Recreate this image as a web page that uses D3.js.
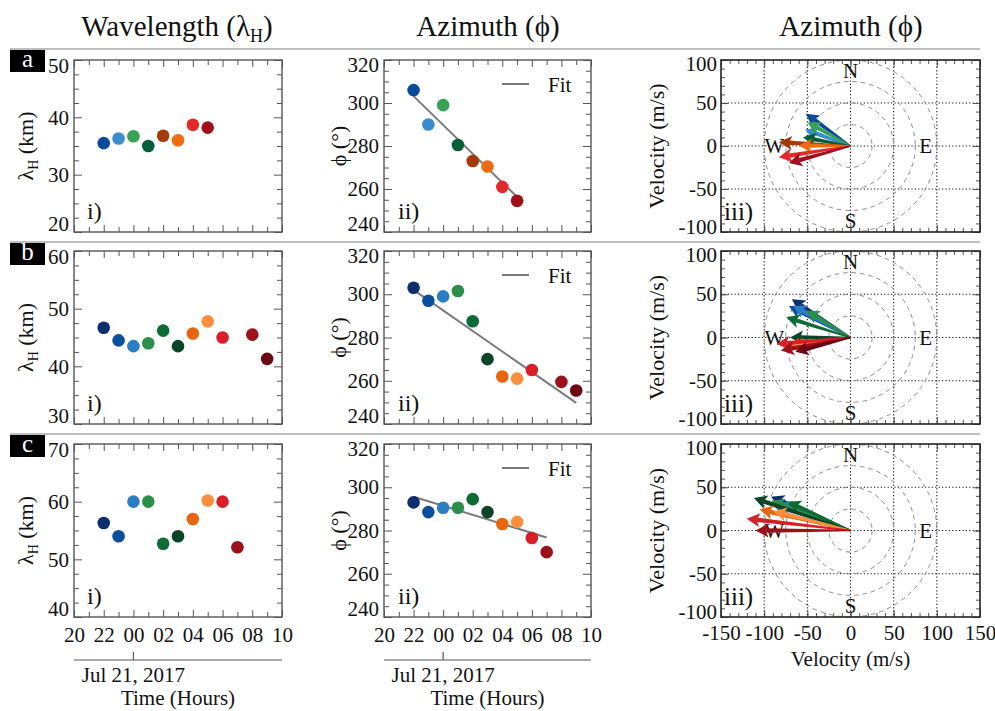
<!DOCTYPE html>
<html>
<head>
<meta charset="utf-8">
<script src="https://cdn.jsdelivr.net/npm/d3@7"></script>
<style>
  body { margin: 0; background: #fff; }
  svg text { font-family: "Liberation Serif", "DejaVu Serif", serif; fill: #111; }
</style>
</head>
<body>
<svg id="chart" width="995" height="711"></svg>
<script>
// Hours of day continue past midnight: 24 = 00 UT on Jul 21, 2017
const hoursA = [22, 23, 24, 25, 26, 27, 28, 29];
const wavelengthA = [35.5, 36.3, 36.7, 35.0, 36.8, 36.0, 38.7, 38.2];
const azimuthA = [306, 290, 299, 280.5, 273, 270.5, 261, 254.5];
const speedA = [64, 56, 57, 56, 83, 60, 84, 74];
const colorsA = ["#0b4a98", "#3a8ccf", "#37a256", "#05603a", "#a33b09", "#ee6b12", "#e32a2b", "#a10f1a"];
const fitA = [303.2, 256.3];

const hoursB = [22, 23, 24, 25, 26, 27, 28, 29, 30, 32, 33];
const wavelengthB = [46.7, 44.5, 43.5, 44.0, 46.2, 43.5, 45.7, 47.8, 45.0, 45.5, 41.3];
const azimuthB = [303, 297, 299, 301.5, 287.5, 270, 262, 261, 265, 259.5, 255.5];
const speedB = [81, 80, 76, 60, 78, 70, 74, 70, 86, 82, 66];
const colorsB = ["#0c2e6c", "#0b4f9c", "#2b7ec4", "#2b8e4b", "#0d6b35", "#0a4527", "#e8640f", "#fd8e3d", "#d81f27", "#9f101b", "#6a0712"];
const fitB = [302.0, 249.8];

const hoursC = [22, 23, 24, 25, 26, 27, 28, 29, 30, 31];
const wavelengthC = [56.3, 54.0, 60.0, 60.0, 52.7, 54.0, 57.0, 60.2, 60.0, 52.1];
const azimuthC = [293, 288.5, 290.5, 290.5, 294.5, 288.5, 283, 284, 276.5, 270];
const speedC = [100, 95, 90, 98, 80, 118, 108, 92, 121, 110];
const colorsC = ["#0c2e6c", "#0b4f9c", "#2b7ec4", "#2b8e4b", "#0d6b35", "#0a4527", "#e8640f", "#fd8e3d", "#d81f27", "#9c1018"];
const fitC = [295.6, 276.8];

const rowLetters = ["a", "b", "c"];
const wavelengthTicks = [[20, 30, 40, 50], [30, 40, 50, 60], [40, 50, 60, 70]];
const azimuthTicks = [240, 260, 280, 300, 320];
const timeTickHours = [20, 22, 24, 26, 28, 30, 32, 34];
const timeTickLabels = ["20", "22", "00", "02", "04", "06", "08", "10"];
const velXTicks = [-150, -100, -50, 0, 50, 100, 150];
const velYTicks = [-100, -50, 0, 50, 100];
const velGridX = [-100, -50, 0, 50, 100];
const velGridY = [-50, 0, 50];
const speedRings = [25, 50, 75, 100];
const compass = [["N", 0, 87], ["S", 0, -87], ["E", 87, 0], ["W", -88, 0]];

const rows = [
  { hours: hoursA, lambda: wavelengthA, az: azimuthA, speed: speedA, colors: colorsA, fit: fitA },
  { hours: hoursB, lambda: wavelengthB, az: azimuthB, speed: speedB, colors: colorsB, fit: fitB },
  { hours: hoursC, lambda: wavelengthC, az: azimuthC, speed: speedC, colors: colorsC, fit: fitC }
];

// Layout
const COL_I = [74, 282], COL_II = [384, 591], COL_III = [721, 980];
const ROW_Y = [[60, 232], [251, 424], [444, 617]];
const SEP_Y = [49, 242, 434];
const FRAME = "#555";

const svg = d3.select("#chart");

// Column titles
function titleWithSub(x, y, main, sub, tail, size) {
  const t = svg.append("text").attr("x", x).attr("y", y).attr("text-anchor", "middle")
    .attr("font-size", size);
  t.append("tspan").text(main);
  if (sub) t.append("tspan").attr("font-size", size * 0.62).attr("dy", size * 0.22).text(sub);
  if (tail) t.append("tspan").attr("dy", sub ? -size * 0.22 : 0).text(tail);
  return t;
}
titleWithSub(177, 36, "Wavelength (λ", "H", ")", 29);
svg.append("text").attr("x", 488).attr("y", 36).attr("text-anchor", "middle").attr("font-size", 29).text("Azimuth (ϕ)");
svg.append("text").attr("x", 851).attr("y", 36).attr("text-anchor", "middle").attr("font-size", 29).text("Azimuth (ϕ)");

// Inward ticks on one side of a frame
function ticks(g, scale, orient, pos, values, size) {
  const maker = { bottom: d3.axisBottom, top: d3.axisTop, left: d3.axisLeft, right: d3.axisRight }[orient];
  const horiz = orient === "bottom" || orient === "top";
  const a = g.append("g")
    .attr("transform", horiz ? `translate(0,${pos})` : `translate(${pos},0)`)
    .call(maker(scale).tickValues(values).tickSize(-size).tickFormat(""));
  a.select(".domain").remove();
  a.selectAll("line").attr("stroke", FRAME).attr("stroke-width", 1);
}
// Tick labels; the end labels of a vertical axis are nudged inside the frame
function labels(g, axis, transform, nudgeTop, nudgeBottom) {
  const a = g.append("g").attr("transform", transform).call(axis.tickSize(0));
  a.select(".domain").remove();
  a.attr("font-family", null).attr("font-size", null);
  a.selectAll("text").attr("font-size", 21).attr("fill", "#111");
  if (nudgeTop !== undefined) {
    const vals = axis.tickValues();
    const hi = d3.max(vals), lo = d3.min(vals);
    a.selectAll(".tick").filter(d => d === hi).select("text").attr("y", nudgeTop);
    a.selectAll(".tick").filter(d => d === lo).select("text").attr("y", -nudgeBottom);
  }
  return a;
}
function frame(g, x0, x1, y0, y1) {
  g.append("rect").attr("x", x0).attr("y", y0).attr("width", x1 - x0).attr("height", y1 - y0)
    .attr("fill", "none").attr("stroke", FRAME).attr("stroke-width", 1.4);
}
function stepRange(a, b, step) { return d3.range(a, b + step / 2, step); }

rows.forEach((row, r) => {
  const [y0, y1] = ROW_Y[r];
  const g = svg.append("g");
  const last = r === rows.length - 1;

  // Row separator and letter tag
  g.append("line").attr("x1", 10).attr("x2", 980).attr("y1", SEP_Y[r]).attr("y2", SEP_Y[r])
    .attr("stroke", "#a8a8a8").attr("stroke-width", 1.6);
  g.append("rect").attr("x", 10).attr("y", SEP_Y[r] + 1).attr("width", 35).attr("height", 22).attr("fill", "#000");
  g.append("text").attr("x", 27.5).attr("y", SEP_Y[r] + 18).attr("text-anchor", "middle")
    .attr("font-size", 25).style("fill", "#fff").text(rowLetters[r]);

  // ---------- i) wavelength ----------
  const lt = wavelengthTicks[r];
  const x1s = d3.scaleLinear().domain([20, 34]).range(COL_I);
  const yL = d3.scaleLinear().domain([lt[0], lt[lt.length - 1]]).range([y1, y0]);
  const gi = g.append("g");
  ticks(gi, x1s, "bottom", y1, stepRange(20, 34, 2), 7);
  ticks(gi, x1s, "bottom", y1, stepRange(21, 33, 2), 5);
  ticks(gi, x1s, "top", y0, stepRange(20, 34, 2), 7);
  ticks(gi, x1s, "top", y0, stepRange(21, 33, 2), 5);
  const lMinor = stepRange(lt[0], lt[lt.length - 1], 2.5).filter(v => v % 10 !== 0);
  ticks(gi, yL, "left", COL_I[0], lt, 8);
  ticks(gi, yL, "left", COL_I[0], lMinor, 5);
  ticks(gi, yL, "right", COL_I[1], lt, 8);
  ticks(gi, yL, "right", COL_I[1], lMinor, 5);
  frame(gi, COL_I[0], COL_I[1], y0, y1);
  labels(gi, d3.axisLeft(yL).tickValues(lt).tickPadding(5).tickFormat(d => String(d)),
    `translate(${COL_I[0]},0)`, 6, 8);
  const yt = gi.append("text").attr("transform", `translate(33,${(y0 + y1) / 2}) rotate(-90)`)
    .attr("text-anchor", "middle").attr("font-size", 22);
  yt.append("tspan").text("λ");
  yt.append("tspan").attr("font-size", 14).attr("dy", 5).text("H");
  yt.append("tspan").attr("dy", -5).text(" (km)");
  gi.selectAll("circle.pt").data(row.hours).join("circle").attr("class", "pt")
    .attr("cx", d => x1s(d)).attr("cy", (d, k) => yL(row.lambda[k])).attr("r", 6.3)
    .attr("fill", (d, k) => row.colors[k]);
  gi.append("text").attr("x", COL_I[0] + 13).attr("y", y1 - 13).attr("font-size", 24).text("i)");

  // ---------- ii) azimuth ----------
  const x2s = d3.scaleLinear().domain([20, 34]).range(COL_II);
  const yA = d3.scaleLinear().domain([240, 320]).range([y1, y0]);
  const gii = g.append("g");
  ticks(gii, x2s, "bottom", y1, stepRange(20, 34, 2), 7);
  ticks(gii, x2s, "bottom", y1, stepRange(21, 33, 2), 5);
  ticks(gii, x2s, "top", y0, stepRange(20, 34, 2), 7);
  ticks(gii, x2s, "top", y0, stepRange(21, 33, 2), 5);
  const aMinor = stepRange(240, 320, 5).filter(v => v % 20 !== 0);
  ticks(gii, yA, "left", COL_II[0], azimuthTicks, 8);
  ticks(gii, yA, "left", COL_II[0], aMinor, 5);
  ticks(gii, yA, "right", COL_II[1], azimuthTicks, 8);
  ticks(gii, yA, "right", COL_II[1], aMinor, 5);
  frame(gii, COL_II[0], COL_II[1], y0, y1);
  labels(gii, d3.axisLeft(yA).tickValues(azimuthTicks).tickPadding(5).tickFormat(d => String(d)),
    `translate(${COL_II[0]},0)`, 5, 8);
  gii.append("text").attr("transform", `translate(346,${(y0 + y1) / 2}) rotate(-90)`)
    .attr("text-anchor", "middle").attr("font-size", 22).text("ϕ (°)");
  const h0 = row.hours[0], h1 = row.hours[row.hours.length - 1];
  gii.append("line").attr("x1", x2s(h0)).attr("y1", yA(row.fit[0])).attr("x2", x2s(h1)).attr("y2", yA(row.fit[1]))
    .attr("stroke", "#7a7a7a").attr("stroke-width", 2);
  gii.selectAll("circle.pt").data(row.hours).join("circle").attr("class", "pt")
    .attr("cx", d => x2s(d)).attr("cy", (d, k) => yA(row.az[k])).attr("r", 6.3)
    .attr("fill", (d, k) => row.colors[k]);
  gii.append("line").attr("x1", COL_II[0] + 118).attr("x2", COL_II[0] + 145).attr("y1", y0 + 24).attr("y2", y0 + 24)
    .attr("stroke", "#7a7a7a").attr("stroke-width", 2);
  gii.append("text").attr("x", COL_II[0] + 164).attr("y", y0 + 32).attr("font-size", 21).text("Fit");
  gii.append("text").attr("x", COL_II[0] + 14).attr("y", y1 - 13).attr("font-size", 24).text("ii)");

  // Time axis labels under the last row
  if (last) {
    [[gi, x1s, COL_I], [gii, x2s, COL_II]].forEach(([gg, xs, col]) => {
      labels(gg, d3.axisBottom(xs).tickValues(timeTickHours).tickPadding(10)
        .tickFormat((d, k) => timeTickLabels[k]), `translate(0,${y1})`);
      gg.append("line").attr("x1", col[0]).attr("x2", col[1]).attr("y1", 660).attr("y2", 660)
        .attr("stroke", FRAME).attr("stroke-width", 1.2);
      gg.append("line").attr("x1", xs(24)).attr("x2", xs(24)).attr("y1", 652).attr("y2", 660)
        .attr("stroke", FRAME).attr("stroke-width", 1.2);
      gg.append("text").attr("x", xs(24)).attr("y", 682).attr("text-anchor", "middle").attr("font-size", 21)
        .text("Jul 21, 2017");
      gg.append("text").attr("x", (col[0] + col[1]) / 2).attr("y", 705).attr("text-anchor", "middle")
        .attr("font-size", 21).text("Time (Hours)");
    });
  }

  // ---------- iii) velocity vectors ----------
  const xV = d3.scaleLinear().domain([-150, 150]).range(COL_III);
  const yV = d3.scaleLinear().domain([-100, 100]).range([y1, y0]);
  const giii = g.append("g");
  giii.selectAll("line.gx").data(velGridX).join("line").attr("class", "gx")
    .attr("x1", d => xV(d)).attr("x2", d => xV(d)).attr("y1", y0).attr("y2", y1)
    .attr("stroke", "#111").attr("stroke-width", 1.1).attr("stroke-dasharray", "1.2,2.2");
  giii.selectAll("line.gy").data(velGridY).join("line").attr("class", "gy")
    .attr("y1", d => yV(d)).attr("y2", d => yV(d)).attr("x1", COL_III[0]).attr("x2", COL_III[1])
    .attr("stroke", "#111").attr("stroke-width", 1.1).attr("stroke-dasharray", "1.2,2.2");
  giii.selectAll("ellipse").data(speedRings).join("ellipse")
    .attr("cx", xV(0)).attr("cy", yV(0))
    .attr("rx", d => xV(d) - xV(0)).attr("ry", d => yV(0) - yV(d))
    .attr("fill", "none").attr("stroke", "#8c8c8c").attr("stroke-width", 1).attr("stroke-dasharray", "4.5,4");
  giii.selectAll("text.cmp").data(compass).join("text").attr("class", "cmp")
    .attr("x", d => xV(d[1])).attr("y", d => yV(d[2]) + 7).attr("text-anchor", "middle")
    .attr("font-size", 21).text(d => d[0]);

  const vxTicks = stepRange(-150, 150, 10), vyTicks = stepRange(-100, 100, 10);
  ticks(giii, xV, "bottom", y1, vxTicks, 4);
  ticks(giii, xV, "top", y0, vxTicks, 4);
  ticks(giii, xV, "bottom", y1, velXTicks, 7);
  ticks(giii, xV, "top", y0, velXTicks, 7);
  ticks(giii, yV, "left", COL_III[0], vyTicks, 4);
  ticks(giii, yV, "right", COL_III[1], vyTicks, 4);
  ticks(giii, yV, "left", COL_III[0], velYTicks, 7);
  ticks(giii, yV, "right", COL_III[1], velYTicks, 7);
  giii.append("rect").attr("x", COL_III[0]).attr("y", y0).attr("width", COL_III[1] - COL_III[0]).attr("height", y1 - y0)
    .attr("fill", "none").attr("stroke", "#222").attr("stroke-width", 1.6);
  labels(giii, d3.axisLeft(yV).tickValues(velYTicks).tickPadding(4).tickFormat(d => String(d)),
    `translate(${COL_III[0]},0)`, 4, 5);
  giii.append("text").attr("transform", `translate(664,${(y0 + y1) / 2}) rotate(-90)`)
    .attr("text-anchor", "middle").attr("font-size", 22).text("Velocity (m/s)");

  // Arrows from the origin along each azimuth (clockwise from north)
  const ox = xV(0), oy = yV(0);
  row.az.forEach((az, k) => {
    const rad = az * Math.PI / 180;
    const tx = xV(row.speed[k] * Math.sin(rad)), ty = yV(row.speed[k] * Math.cos(rad));
    const dx = tx - ox, dy = ty - oy, len = Math.hypot(dx, dy);
    const ux = dx / len, uy = dy / len, px = -uy, py = ux;
    const L = 13, W = 7;
    const bx = tx - ux * L, by = ty - uy * L;
    // shaft widens slightly toward the head
    const w0 = 0.8, w1 = 2.2;
    giii.append("path")
      .attr("d", `M${ox + px * w0},${oy + py * w0}L${bx + ux * 3 + px * w1},${by + uy * 3 + py * w1}` +
        `L${bx + ux * 3 - px * w1},${by + uy * 3 - py * w1}L${ox - px * w0},${oy - py * w0}Z`)
      .attr("fill", row.colors[k]);
    giii.append("path")
      .attr("d", `M${tx},${ty}L${bx + px * W},${by + py * W}L${bx + ux * 3},${by + uy * 3}L${bx - px * W},${by - py * W}Z`)
      .attr("fill", row.colors[k]);
  });
  giii.append("text").attr("x", COL_III[0] + 3).attr("y", y1 - 12).attr("font-size", 25).text("iii)");

  if (last) {
    labels(giii, d3.axisBottom(xV).tickValues(velXTicks).tickPadding(8).tickFormat(d => String(d)), `translate(0,${y1})`);
    giii.append("text").attr("x", (COL_III[0] + COL_III[1]) / 2).attr("y", 666).attr("text-anchor", "middle")
      .attr("font-size", 21).text("Velocity (m/s)");
  }
});
</script>
</body>
</html>
